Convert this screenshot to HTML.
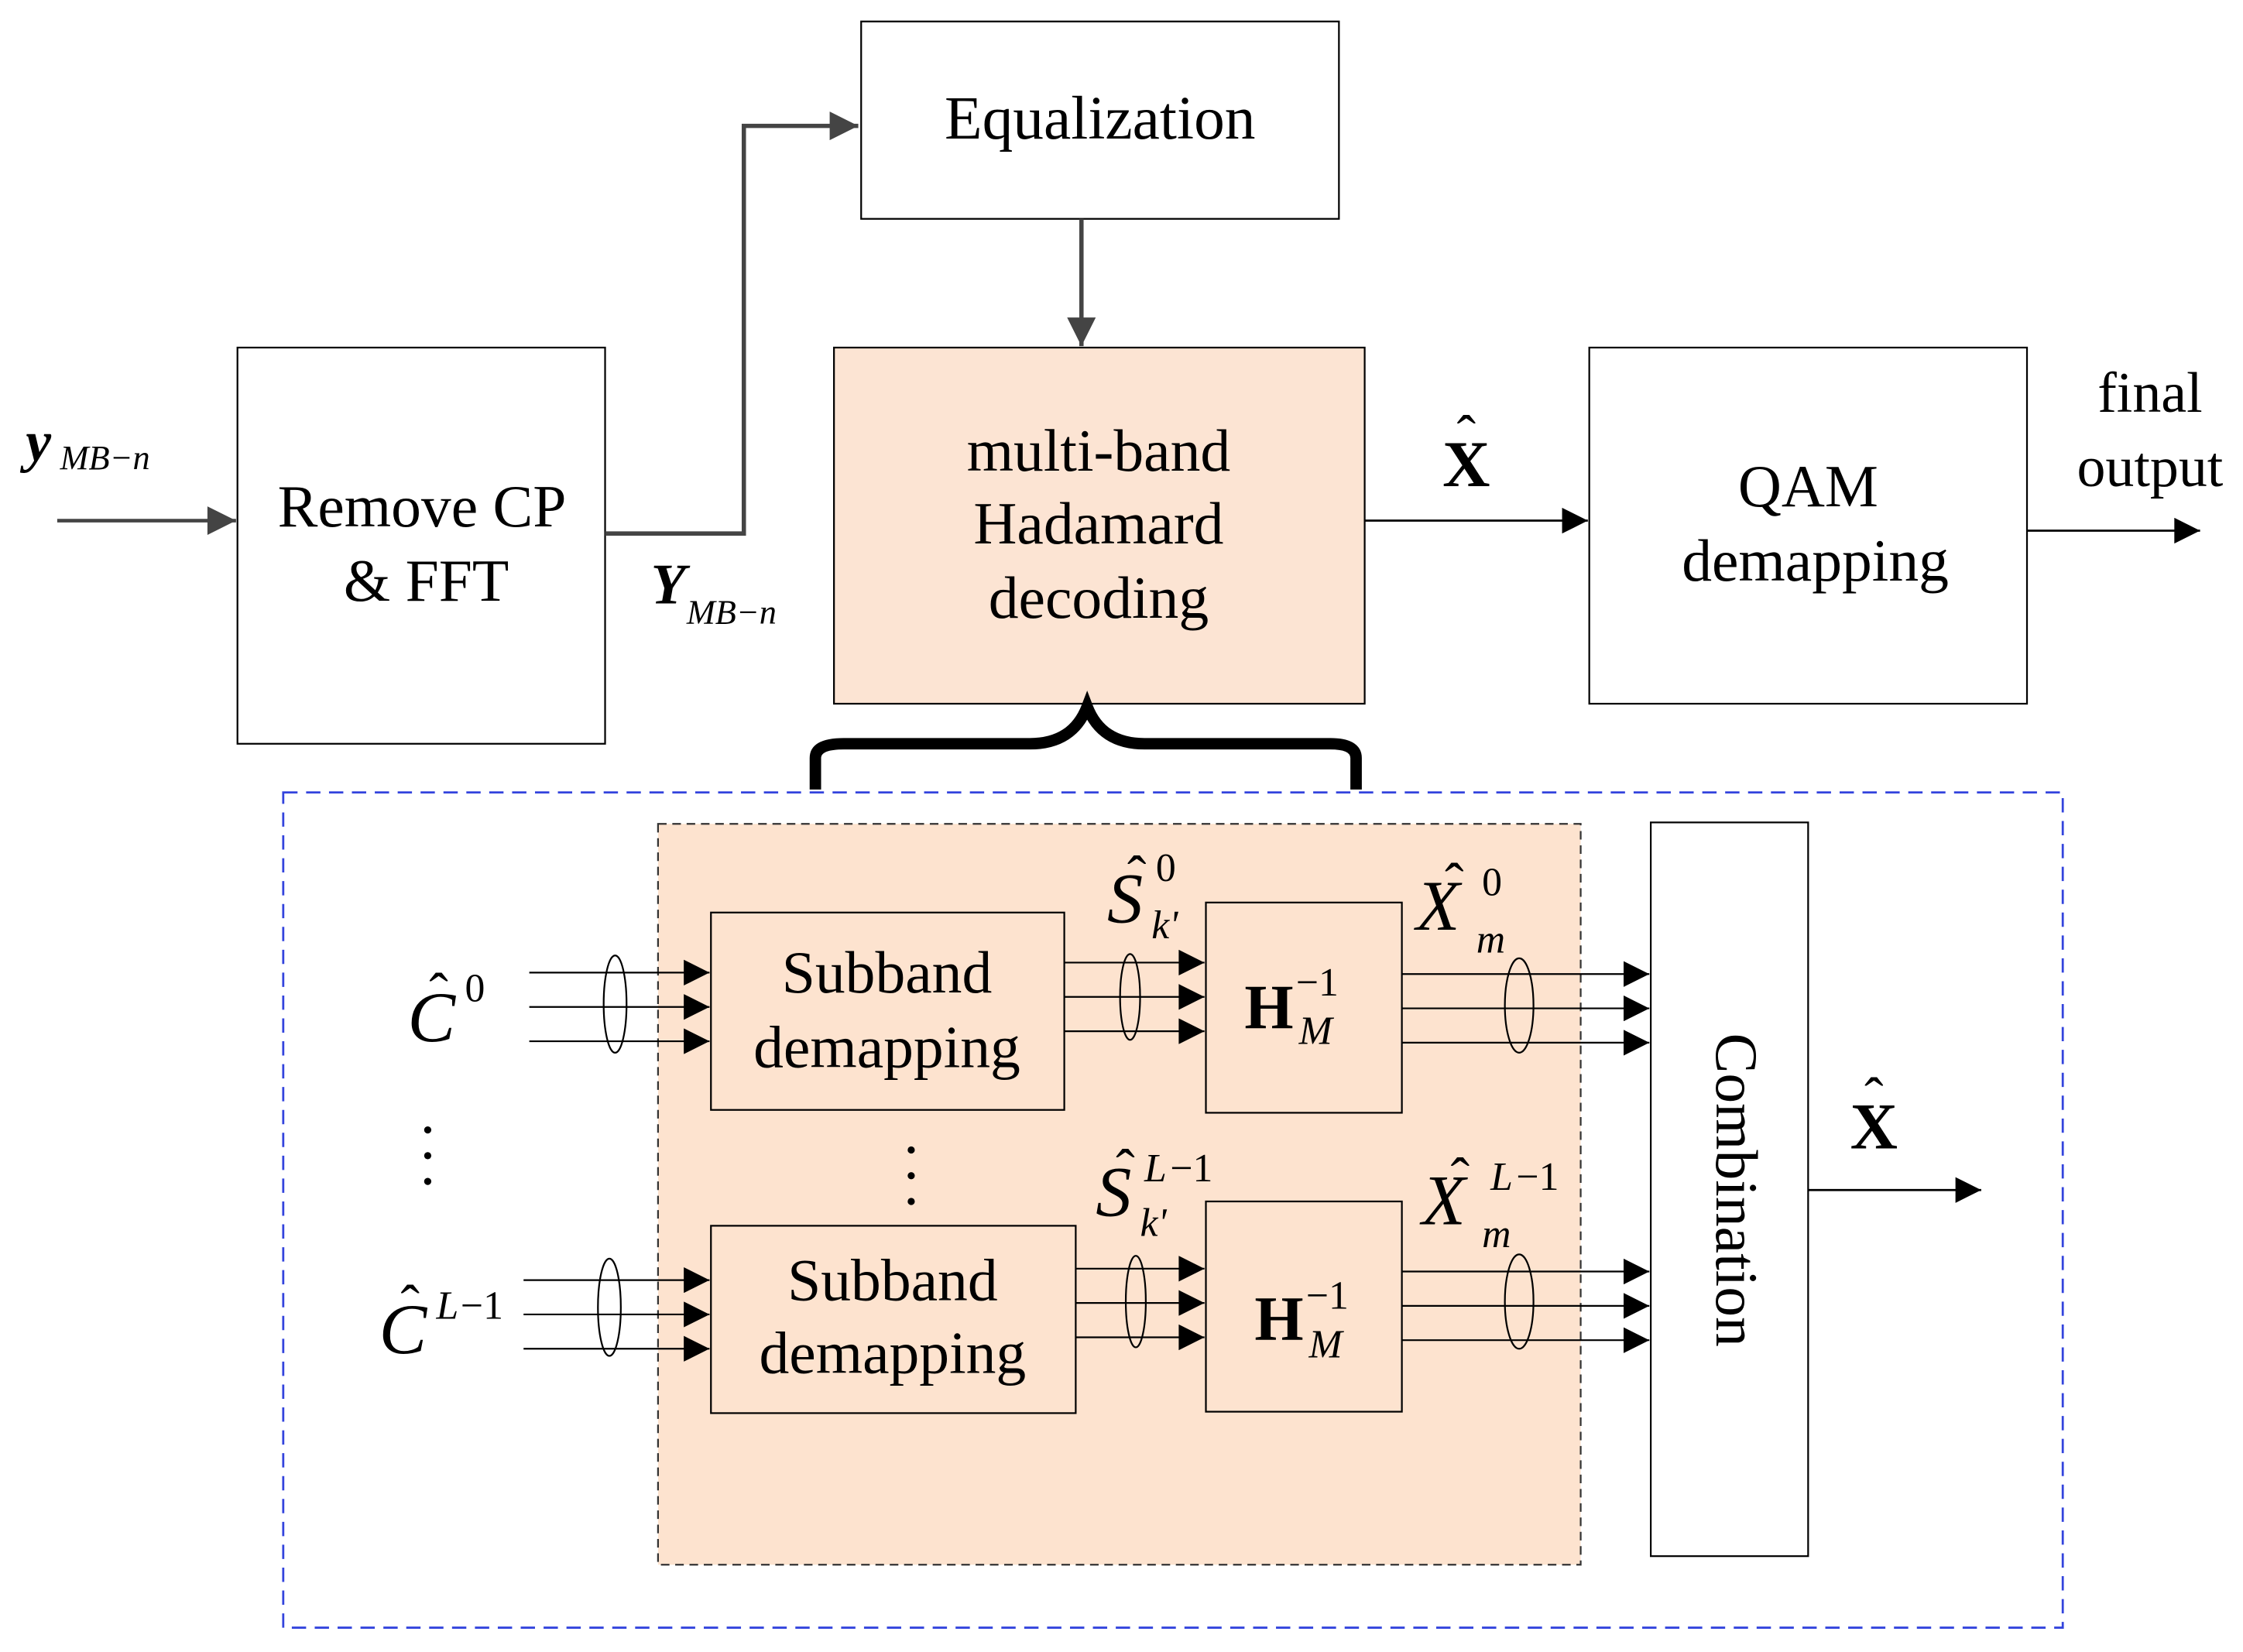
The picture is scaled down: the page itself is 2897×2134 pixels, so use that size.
<!DOCTYPE html>
<html><head><meta charset="utf-8"><style>
html,body{margin:0;padding:0;background:#fff}
svg{display:block}
text{font-family:"Liberation Serif",serif;fill:#000}
</style></head><body>
<svg width="2897" height="2134" viewBox="0 0 1568 1155" xmlns="http://www.w3.org/2000/svg">
<defs>
<marker id="b" viewBox="0 0 10 10" markerWidth="24" markerHeight="18" refX="10" refY="5" orient="auto" markerUnits="userSpaceOnUse"><path d="M0,0 L10,5 L0,10 z" fill="#000"/></marker>
<marker id="g" viewBox="0 0 10 10" markerWidth="30" markerHeight="20" refX="10" refY="5" orient="auto" markerUnits="userSpaceOnUse"><path d="M0,0 L10,5 L0,10 z" fill="#444"/></marker>
</defs>
<rect x="602" y="15" width="334" height="138" fill="#fff" stroke="#000" stroke-width="1.2"/>
<text x="769" y="97" font-size="43" text-anchor="middle">Equalization</text>
<line x1="756" y1="153" x2="756" y2="242" stroke="#444" stroke-width="3" marker-end="url(#g)"/>
<rect x="166" y="243" width="257" height="277" fill="#fff" stroke="#000" stroke-width="1.2"/>
<text x="295" y="368" font-size="42" text-anchor="middle">Remove CP</text>
<text x="298" y="420" font-size="42" text-anchor="middle">&amp; FFT</text>
<line x1="40" y1="364" x2="165" y2="364" stroke="#444" stroke-width="2.5" marker-end="url(#g)"/>
<text x="18" y="322" font-size="40" font-style="italic" font-weight="bold">y</text>
<text x="42" y="328" font-size="24" font-style="italic">MB−n</text>
<polyline points="423,373 520,373 520,88 600,88" fill="none" stroke="#444" stroke-width="3" marker-end="url(#g)"/>
<text x="455" y="422" font-size="40" font-style="italic" font-weight="bold">Y</text>
<text x="480" y="436" font-size="24" font-style="italic">MB−n</text>
<rect x="583" y="243" width="371" height="249" fill="#fce4d3" stroke="#000" stroke-width="1.2"/>
<text x="768" y="329" font-size="42" text-anchor="middle">multi-band</text>
<text x="768" y="380" font-size="42" text-anchor="middle">Hadamard</text>
<text x="768" y="432" font-size="42" text-anchor="middle">decoding</text>
<line x1="954" y1="364" x2="1110" y2="364" stroke="#000" stroke-width="1.5" marker-end="url(#b)"/>
<text x="1025" y="340" font-size="46" font-weight="bold" text-anchor="middle">X</text>
<text x="1025" y="318" font-size="40" text-anchor="middle">ˆ</text>
<rect x="1111" y="243" width="306" height="249" fill="#fff" stroke="#000" stroke-width="1.2"/>
<text x="1264" y="354" font-size="42" text-anchor="middle">QAM</text>
<text x="1269" y="406" font-size="42" text-anchor="middle">demapping</text>
<text x="1503" y="288" font-size="40" text-anchor="middle">final</text>
<text x="1503" y="340" font-size="40" text-anchor="middle">output</text>
<line x1="1417" y1="371" x2="1538" y2="371" stroke="#000" stroke-width="1.5" marker-end="url(#b)"/>
<path d="M570,552 L570,530 Q570,520 590,520 L720,520 Q750,520 760,494 Q770,520 800,520 L930,520 Q948,520 948,530 L948,552" fill="none" stroke="#000" stroke-width="8"/>
<rect x="198" y="554" width="1244" height="584" fill="none" stroke="#3344dd" stroke-width="1.5" stroke-dasharray="10,6"/>
<rect x="460" y="576" width="645" height="518" fill="#fde3cf" stroke="#333" stroke-width="1.2" stroke-dasharray="6,4"/>
<rect x="497" y="638" width="247" height="138" fill="#fde3cf" stroke="#000" stroke-width="1.2"/>
<text x="620" y="694" font-size="42" text-anchor="middle">Subband</text>
<text x="620" y="746" font-size="42" text-anchor="middle">demapping</text>
<rect x="497" y="857" width="255" height="131" fill="#fde3cf" stroke="#000" stroke-width="1.2"/>
<text x="624" y="909" font-size="42" text-anchor="middle">Subband</text>
<text x="624" y="960" font-size="42" text-anchor="middle">demapping</text>
<rect x="843" y="631" width="137" height="147" fill="#fde3cf" stroke="#000" stroke-width="1.2"/>
<text x="870" y="719" font-size="44" font-weight="bold">H</text>
<text x="906" y="696" font-size="28">−1</text>
<text x="908" y="730" font-size="28" font-style="italic">M</text>
<rect x="843" y="840" width="137" height="147" fill="#fde3cf" stroke="#000" stroke-width="1.2"/>
<text x="877" y="937" font-size="44" font-weight="bold">H</text>
<text x="913" y="915" font-size="28">−1</text>
<text x="915" y="949" font-size="28" font-style="italic">M</text>
<rect x="1154" y="575" width="110" height="513" fill="#fff" stroke="#000" stroke-width="1.2"/>
<text transform="translate(1200,832) rotate(90)" font-size="42" text-anchor="middle">Combination</text>
<line x1="1264" y1="832" x2="1385" y2="832" stroke="#000" stroke-width="1.5" marker-end="url(#b)"/>
<text x="1310" y="803" font-size="46" font-weight="bold" text-anchor="middle">X</text>
<text x="1310" y="781" font-size="40" text-anchor="middle">ˆ</text>
<g stroke="#000" stroke-width="1.2" fill="none">
<line x1="370" y1="680" x2="496" y2="680" marker-end="url(#b)"/>
<line x1="370" y1="704" x2="496" y2="704" marker-end="url(#b)"/>
<line x1="370" y1="728" x2="496" y2="728" marker-end="url(#b)"/>
<ellipse cx="430" cy="702" rx="8" ry="34"/>
<line x1="744" y1="673" x2="842" y2="673" marker-end="url(#b)"/>
<line x1="744" y1="697" x2="842" y2="697" marker-end="url(#b)"/>
<line x1="744" y1="721" x2="842" y2="721" marker-end="url(#b)"/>
<ellipse cx="790" cy="697" rx="7" ry="30"/>
<line x1="980" y1="681" x2="1153" y2="681" marker-end="url(#b)"/>
<line x1="980" y1="705" x2="1153" y2="705" marker-end="url(#b)"/>
<line x1="980" y1="729" x2="1153" y2="729" marker-end="url(#b)"/>
<ellipse cx="1062" cy="703" rx="10" ry="33"/>
<line x1="366" y1="895" x2="496" y2="895" marker-end="url(#b)"/>
<line x1="366" y1="919" x2="496" y2="919" marker-end="url(#b)"/>
<line x1="366" y1="943" x2="496" y2="943" marker-end="url(#b)"/>
<ellipse cx="426" cy="914" rx="8" ry="34"/>
<line x1="752" y1="887" x2="842" y2="887" marker-end="url(#b)"/>
<line x1="752" y1="911" x2="842" y2="911" marker-end="url(#b)"/>
<line x1="752" y1="935" x2="842" y2="935" marker-end="url(#b)"/>
<ellipse cx="794" cy="910" rx="7" ry="32"/>
<line x1="980" y1="889" x2="1153" y2="889" marker-end="url(#b)"/>
<line x1="980" y1="913" x2="1153" y2="913" marker-end="url(#b)"/>
<line x1="980" y1="937" x2="1153" y2="937" marker-end="url(#b)"/>
<ellipse cx="1062" cy="910" rx="10" ry="33"/>
</g>
<g font-style="italic">
<text x="285" y="728" font-size="50">C</text><text x="300" y="708" font-size="40" font-style="normal">ˆ</text><text x="325" y="700" font-size="28" font-style="normal">0</text>
<text x="265" y="946" font-size="50">C</text><text x="280" y="926" font-size="40" font-style="normal">ˆ</text><text x="305" y="922" font-size="28">L</text><text x="322" y="922" font-size="28" font-style="normal">−1</text>
<text x="774" y="645" font-size="50">S</text><text x="788" y="626" font-size="40" font-style="normal">ˆ</text><text x="808" y="616" font-size="28" font-style="normal">0</text><text x="805" y="656" font-size="28">k'</text>
<text x="766" y="850" font-size="50">S</text><text x="780" y="831" font-size="40" font-style="normal">ˆ</text><text x="800" y="826" font-size="28">L</text><text x="818" y="826" font-size="28" font-style="normal">−1</text><text x="797" y="864" font-size="28">k'</text>
<text x="990" y="650" font-size="50">X</text><text x="1010" y="631" font-size="40" font-style="normal">ˆ</text><text x="1036" y="626" font-size="28" font-style="normal">0</text><text x="1032" y="666" font-size="28">m</text>
<text x="994" y="856" font-size="50">X</text><text x="1014" y="837" font-size="40" font-style="normal">ˆ</text><text x="1042" y="832" font-size="28">L</text><text x="1060" y="832" font-size="28" font-style="normal">−1</text><text x="1036" y="872" font-size="28">m</text>
</g>
<g fill="#000">
<circle cx="299" cy="790" r="2.5"/><circle cx="299" cy="808" r="2.5"/><circle cx="299" cy="826" r="2.5"/>
<circle cx="637" cy="804" r="2.5"/><circle cx="637" cy="822" r="2.5"/><circle cx="637" cy="840" r="2.5"/>
</g>
</svg>
</body></html>
